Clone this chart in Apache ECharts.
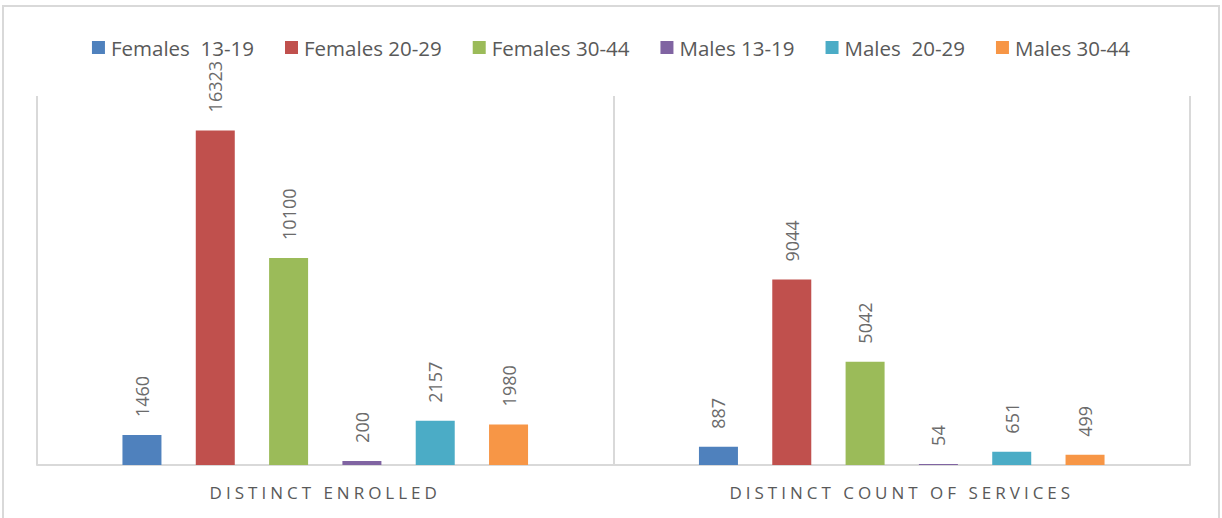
<!DOCTYPE html>
<html>
<head>
<meta charset="utf-8">
<script src="https://cdn.jsdelivr.net/npm/echarts@6/dist/echarts.min.js"></script>
<style>
html,body{margin:0;padding:0;background:#fff;}
#chart{width:1222px;height:518px;}
</style>
</head>
<body>
<div id="chart"></div>
<script>
var categories = ['DISTINCT ENROLLED', 'DISTINCT COUNT OF SERVICES'];
var seriesNames = ['Females  13-19', 'Females 20-29', 'Females 30-44', 'Males 13-19', 'Males  20-29', 'Males 30-44'];
var females1319 = [1460, 887];
var females2029 = [16323, 9044];
var females3044 = [10100, 5042];
var males1319 = [200, 54];
var males2029 = [2157, 651];
var males3044 = [1980, 499];
var colors = ['#4f81bd', '#c0504d', '#9bbb59', '#8064a2', '#4bacc6', '#f79646'];

var fontFam = '"Open Sans", sans-serif';
var allData = [females1319, females2029, females3044, males1319, males2029, males3044];

var chart = echarts.init(document.getElementById('chart'), null, {renderer: 'svg'});

var series = [];
for (var i = 0; i < seriesNames.length; i++) {
	series.push({
		name: seriesNames[i],
		type: 'bar',
		data: allData[i],
		barWidth: 39,
		barGap: '88%',
		itemStyle: {color: colors[i]},
		label: {
			show: true,
			position: 'top',
			rotate: 90,
			align: 'left',
			verticalAlign: 'middle',
			distance: 18,
			color: '#6b6b6b',
			fontSize: 18,
			fontFamily: fontFam
		}
	});
}

chart.setOption({
	animation: false,
	color: colors,
	graphic: [{
		type: 'rect',
		shape: {x: 3, y: 6, width: 1216, height: 600},
		style: {fill: 'none', stroke: '#d9d9d9', lineWidth: 2},
		silent: true
	}],
	legend: {
		top: 32,
		left: 'center',
		itemWidth: 13,
		itemHeight: 13,
		itemGap: 31,
		icon: 'rect',
		textStyle: {color: '#595959', fontSize: 20.5, fontFamily: fontFam, padding: [0, 0, 0, 1]}
	},
	grid: {left: 37, right: 32, top: 96, bottom: 53},
	xAxis: {
		type: 'category',
		data: categories,
		axisLine: {lineStyle: {color: '#d9d9d9', width: 2}},
		axisTick: {show: false},
		splitLine: {show: true, lineStyle: {color: '#d9d9d9', width: 2}},
		axisLabel: {color: '#595959', fontSize: 17, margin: 19, fontFamily: fontFam}
	},
	yAxis: {
		type: 'value',
		min: 0,
		max: 18000,
		show: false,
		splitLine: {show: false}
	},
	series: series
});

// letter spacing for the category labels (svg text)
function spaceLabels() {
	var texts = document.querySelectorAll('#chart svg text');
	texts.forEach(function (t) {
		if (categories.indexOf(t.textContent) >= 0) {
			t.setAttribute('letter-spacing', '4px');
		}
	});
}
chart.on('finished', spaceLabels);
spaceLabels();
</script>
</body>
</html>
